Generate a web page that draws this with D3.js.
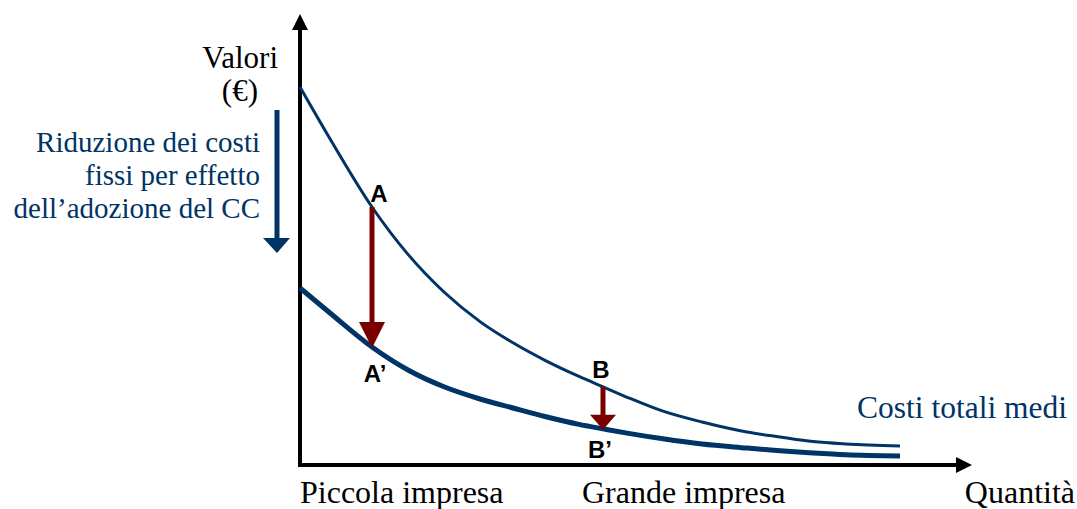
<!DOCTYPE html>
<html><head><meta charset="utf-8">
<script src="https://cdn.jsdelivr.net/npm/d3@7"></script>
<style>html,body{margin:0;padding:0;background:#fff;}svg{display:block;}</style>
</head><body>
<svg id="c" width="1077" height="509"></svg>
<script>
// Quantity grid (x) and the two average-cost curves (y)
const quantity   = [0, 5, 12, 18, 24, 30, 35.5, 41, 46.5, 50.5, 55, 60.5, 67, 74.5, 80, 85.5, 91, 100];
const costBefore = [94.25, 81.3, 64.25, 52.4, 43, 35.6, 30.3, 25.8, 21.9, 19.3, 16.4, 13.2, 10.5, 8, 6.75, 5.6, 5, 4.5];
const costAfter  = [44, 37.75, 29.25, 23.5, 19.3, 16.25, 14, 11.8, 9.9, 8.8, 7.6, 6.3, 5, 4, 3.3, 2.75, 2.3, 2];
// Firms marked on the curves
const firmQty = [12, 50.5];
const firmBefore = ["A", "B"];
const firmAfter = ["A’", "B’"];
const firmAxisLabels = ["Piccola impresa", "Grande impresa"];

const BLUE = "#003366", RED = "#7a0000";
const svg = d3.select("#c");
const x = d3.scaleLinear().domain([0, 100]).range([300, 900]);
const y = d3.scaleLinear().domain([0, 100]).range([464, 64]);

const interp = (arr, q) => {
  for (let i = 0; i < quantity.length - 1; i++) {
    if (q >= quantity[i] && q <= quantity[i + 1]) {
      const t = (q - quantity[i]) / (quantity[i + 1] - quantity[i]);
      return arr[i] + t * (arr[i + 1] - arr[i]);
    }
  }
  return arr[arr.length - 1];
};

// Axes
const x0 = x(0), y0 = y(0);
const yTop = y(112.5), xEnd = x(112);
svg.append("line").attr("x1", x0).attr("x2", x0).attr("y1", y0 + 3).attr("y2", yTop + 12)
  .attr("stroke", "#000").attr("stroke-width", 4);
svg.append("path").attr("d", `M${x0 - 8},${yTop + 16} L${x0},${yTop} L${x0 + 8},${yTop + 16} Z`).attr("fill", "#000");
svg.append("line").attr("x1", x0 - 2).attr("x2", xEnd - 12).attr("y1", y0 + 1).attr("y2", y0 + 1)
  .attr("stroke", "#000").attr("stroke-width", 4);
svg.append("path").attr("d", `M${xEnd - 16},${y0 - 7} L${xEnd},${y0 + 1} L${xEnd - 16},${y0 + 9} Z`).attr("fill", "#000");

// Curves
const line = d3.line().x((d, i) => x(quantity[i])).y(d => y(d)).curve(d3.curveMonotoneX);
svg.append("path").attr("d", line(costBefore)).attr("fill", "none").attr("stroke", BLUE).attr("stroke-width", 3);
svg.append("path").attr("d", line(costAfter)).attr("fill", "none").attr("stroke", BLUE).attr("stroke-width", 5);

// Red reduction arrows
firmQty.forEach((q, i) => {
  const px = x(q), top = y(interp(costBefore, q)), bot = y(interp(costAfter, q)) + 1;
  const hh = i === 0 ? 26 : 15, hw = 13;
  svg.append("line").attr("x1", px).attr("x2", px).attr("y1", top).attr("y2", bot - hh + 1)
    .attr("stroke", RED).attr("stroke-width", 5);
  svg.append("path").attr("d", `M${px - hw},${bot - hh} L${px + hw},${bot - hh} L${px},${bot} Z`).attr("fill", RED);
});

// Point labels
const labFont = "'Liberation Sans', Arial, sans-serif";
const labPos = [[379, 202, 375, 382], [601, 378, 600, 458]];
firmQty.forEach((q, i) => {
  svg.append("text").attr("x", labPos[i][0]).attr("y", labPos[i][1]).attr("text-anchor", "middle")
    .attr("font-family", labFont).attr("font-weight", "bold").attr("font-size", 24).text(firmBefore[i]);
  svg.append("text").attr("x", labPos[i][2]).attr("y", labPos[i][3]).attr("text-anchor", "middle")
    .attr("font-family", labFont).attr("font-weight", "bold").attr("font-size", 24).text(firmAfter[i]);
});

// Texts
const serif = "'Liberation Serif', 'Times New Roman', serif";
const T = (tx, ty, s, anchor, color, size) => svg.append("text").attr("x", tx).attr("y", ty)
  .attr("text-anchor", anchor).attr("font-family", serif).attr("font-size", size).attr("fill", color).text(s);
T(278, 68, "Valori", "end", "#000", 31);
T(258, 101, "(€)", "end", "#000", 31);
T(260, 152, "Riduzione dei costi", "end", BLUE, 29);
T(260, 185, "fissi per effetto", "end", BLUE, 29);
T(260, 218, "dell’adozione del CC", "end", BLUE, 29);
T(1067, 418, "Costi totali medi", "end", BLUE, 31.5);
T(300, 503, firmAxisLabels[0], "start", "#000", 32);
T(582, 503, firmAxisLabels[1], "start", "#000", 32);
T(1075, 503, "Quantità", "end", "#000", 32);

// Blue downward arrow (reduction of fixed costs)
svg.append("line").attr("x1", 277).attr("x2", 277).attr("y1", 110).attr("y2", 240)
  .attr("stroke", BLUE).attr("stroke-width", 5);
svg.append("path").attr("d", "M263,238 L290,238 L277,253 Z").attr("fill", BLUE);
</script>
</body></html>
